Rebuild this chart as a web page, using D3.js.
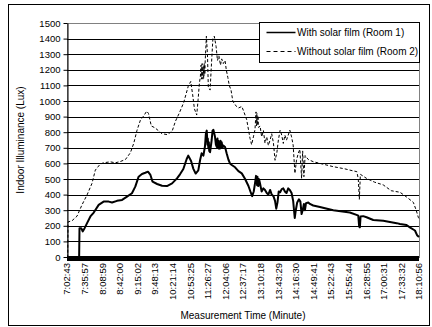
<!DOCTYPE html>
<html>
<head>
<meta charset="utf-8">
<script src="https://cdn.jsdelivr.net/npm/d3@7"></script>
<style>
  body { margin: 0; background: #fff; }
  svg { display: block; }
  text { font-family: "Liberation Sans", Arial, sans-serif; fill: #000; }
</style>
</head>
<body>
<svg id="chart" width="432" height="327"></svg>
<script>
// Category labels shown on the time axis (one every fixed number of samples)
const timeLabels = [
  "7:02:43", "7:35:57", "8:08:59", "8:42:00", "9:15:02", "9:48:13", "10:21:14",
  "10:53:25", "11:26:27", "12:04:06", "12:37:17", "13:10:18", "13:43:29",
  "14:16:30", "14:49:41", "15:22:43", "15:55:44", "16:28:55", "17:00:31",
  "17:33:32", "18:10:56"
];

const yTicks = [0, 100, 200, 300, 400, 500, 600, 700, 800, 900, 1000, 1100, 1200, 1300, 1400, 1500];

const seriesNames = ["With solar film (Room 1)", "Without solar film (Room 2)"];

// Room 1: [position along the label axis, illuminance in lux]
const room1 = [
  [0, 0], [0.69, 0], [0.71, 185], [0.81, 185], [0.89, 164], [1.00, 185], [1.14, 217],
  [1.33, 260], [1.52, 285], [1.80, 334], [2.08, 355], [2.37, 355], [2.56, 349],
  [2.84, 360], [3.13, 366], [3.41, 387], [3.69, 409], [3.88, 451], [4.07, 515],
  [4.26, 532], [4.45, 540], [4.60, 547], [4.74, 526], [4.86, 483], [5.12, 468],
  [5.40, 457], [5.68, 455], [5.97, 472], [6.25, 504], [6.42, 530], [6.61, 564],
  [6.80, 628], [6.89, 650], [7.05, 615], [7.18, 565], [7.31, 535], [7.46, 555],
  [7.56, 620], [7.65, 665], [7.75, 650], [7.84, 710], [7.89, 790], [7.94, 810],
  [7.98, 720], [8.00, 760], [8.03, 700], [8.06, 735], [8.08, 680], [8.13, 672],
  [8.22, 750], [8.27, 810], [8.32, 815], [8.37, 790], [8.41, 770], [8.46, 720],
  [8.51, 705], [8.53, 750], [8.55, 760], [8.58, 705], [8.60, 745], [8.63, 695],
  [8.65, 700], [8.69, 695], [8.72, 745], [8.74, 740], [8.77, 700], [8.79, 735],
  [8.84, 700], [8.88, 715], [8.98, 705], [9.07, 665], [9.17, 625], [9.26, 600],
  [9.36, 590], [9.55, 575], [9.74, 550], [9.93, 536], [10.12, 500], [10.31, 455],
  [10.42, 420], [10.52, 390], [10.61, 420], [10.68, 470], [10.74, 520], [10.76, 480],
  [10.78, 500], [10.80, 460], [10.82, 515], [10.85, 470], [10.87, 455], [10.90, 500],
  [10.93, 490], [10.97, 470], [11.06, 420], [11.16, 440], [11.25, 430], [11.35, 410],
  [11.44, 400], [11.54, 430], [11.63, 400], [11.73, 390], [11.82, 360], [11.89, 310],
  [11.96, 350], [12.03, 420], [12.11, 415], [12.20, 435], [12.29, 440], [12.38, 420],
  [12.47, 410], [12.57, 440], [12.66, 430], [12.76, 410], [12.85, 360], [12.94, 250],
  [13.00, 300], [13.08, 350], [13.18, 370], [13.26, 355], [13.33, 275], [13.39, 300],
  [13.46, 340], [13.52, 300], [13.58, 345], [13.71, 349], [13.80, 340], [13.99, 330],
  [14.37, 320], [15.13, 300], [16.07, 285], [16.45, 270], [16.55, 265], [16.60, 195],
  [16.64, 190], [16.68, 260], [16.83, 262], [17.02, 255], [17.40, 237], [17.97, 232],
  [18.73, 217], [18.92, 212], [19.29, 205], [19.48, 190], [19.77, 170], [19.89, 140],
  [20.0, 128]
];

// Room 2: [position along the label axis, illuminance in lux]
const room2 = [
  [0, 0], [0.04, 0], [0.06, 225], [0.28, 232], [0.57, 262], [0.85, 334], [1.14, 398],
  [1.42, 472], [1.61, 557], [1.89, 596], [2.08, 604], [2.46, 610], [2.75, 604],
  [3.03, 612], [3.32, 625], [3.60, 668], [3.79, 728], [3.98, 813], [4.17, 877],
  [4.36, 905], [4.53, 935], [4.63, 920], [4.79, 840], [5.00, 828], [5.40, 790],
  [5.68, 785], [5.97, 805], [6.16, 870], [6.37, 920], [6.63, 990], [6.89, 1095],
  [7.03, 1125], [7.14, 1040], [7.24, 950], [7.37, 910], [7.45, 1010], [7.52, 1110],
  [7.58, 1160], [7.60, 1210], [7.62, 1230], [7.635, 1140], [7.65, 1150], [7.665, 1235],
  [7.68, 1240], [7.70, 1150], [7.72, 1140], [7.735, 1225], [7.75, 1220], [7.765, 1145],
  [7.78, 1160], [7.795, 1240], [7.81, 1240], [7.83, 1170], [7.85, 1250], [7.92, 1415],
  [7.98, 1300], [8.03, 1090], [8.13, 1070], [8.21, 1240], [8.29, 1400], [8.37, 1415],
  [8.47, 1350], [8.55, 1260], [8.63, 1290], [8.72, 1230], [8.79, 1270], [8.88, 1240],
  [8.98, 1260], [9.05, 1200], [9.14, 1150], [9.22, 1100], [9.32, 1070], [9.42, 1000],
  [9.55, 975], [9.74, 955], [9.93, 965], [10.02, 940], [10.21, 880], [10.40, 760],
  [10.49, 720], [10.59, 770], [10.68, 815], [10.74, 930], [10.755, 850], [10.77, 840],
  [10.785, 915], [10.80, 920], [10.815, 845], [10.83, 850], [10.845, 905], [10.86, 900],
  [10.875, 835], [10.89, 830], [10.97, 840], [11.06, 770], [11.16, 810], [11.25, 730],
  [11.35, 770], [11.44, 715], [11.54, 750], [11.63, 790], [11.73, 730], [11.82, 620],
  [11.92, 665], [12.01, 750], [12.11, 813], [12.20, 781], [12.29, 728], [12.38, 781],
  [12.47, 749], [12.57, 781], [12.66, 813], [12.76, 770], [12.85, 717], [12.95, 536],
  [13.04, 621], [13.14, 665], [13.23, 690], [13.33, 504], [13.39, 680], [13.46, 515],
  [13.53, 650], [13.71, 625], [13.99, 611], [14.37, 600], [15.13, 579], [15.79, 565],
  [16.07, 557], [16.47, 547], [16.55, 500], [16.61, 370], [16.67, 530], [17.02, 504],
  [17.47, 480], [17.97, 462], [18.42, 425], [18.92, 415], [19.29, 385], [19.68, 350],
  [19.84, 300], [19.96, 255], [20.0, 245]
];

const W = 432, H = 327;
const plot = { left: 67, right: 419, top: 23, bottom: 257 };

const svg = d3.select("#chart");

const x = d3.scaleLinear().domain([0, timeLabels.length - 1]).range([plot.left, plot.right]);
const y = d3.scaleLinear().domain([0, 1500]).range([plot.bottom, plot.top]);

// background and outer frame
svg.append("rect").attr("width", W).attr("height", H).attr("fill", "#fff");
svg.append("rect")
  .attr("x", 8.5).attr("y", 4.5).attr("width", 421).attr("height", 321)
  .attr("fill", "none").attr("stroke", "#000").attr("stroke-width", 1);

// plot area border
svg.append("rect")
  .attr("x", plot.left + 0.5).attr("y", y(1500) + 0.5)
  .attr("width", x(timeLabels.length - 1) - plot.left).attr("height", y(0) - y(1500))
  .attr("fill", "none").attr("stroke", "#808080").attr("stroke-width", 1);

// horizontal gridlines
svg.append("g")
  .selectAll("line")
  .data(yTicks.filter(d => d > 0 && d < 1500))
  .join("line")
  .attr("x1", plot.left).attr("x2", plot.right)
  .attr("y1", d => Math.round(y(d)) + 0.5).attr("y2", d => Math.round(y(d)) + 0.5)
  .attr("stroke", "#000").attr("stroke-width", 1);

// y axis
const yAxis = svg.append("g")
  .attr("transform", `translate(${plot.left + 0.5},0)`)
  .call(d3.axisLeft(y).tickValues(yTicks).tickFormat(d3.format("d"))
    .tickSize(4).tickSizeOuter(0).tickPadding(3));
yAxis.select(".domain").attr("stroke", "#000");
yAxis.selectAll(".tick line").attr("stroke", "#000");
yAxis.selectAll(".tick text")
  .attr("font-size", 9.5).attr("font-family", "Liberation Sans, Arial, sans-serif");

// data lines
const line = d3.line().x(d => x(d[0])).y(d => y(d[1]));

svg.append("path")
  .datum(room2)
  .attr("d", line)
  .attr("fill", "none").attr("stroke", "#000").attr("stroke-width", 1)
  .attr("stroke-dasharray", "3,2");

svg.append("path")
  .datum(room1)
  .attr("d", line)
  .attr("fill", "none").attr("stroke", "#000").attr("stroke-width", 2)
  .attr("stroke-linejoin", "round");

// category axis: tick marks at every sample, too dense to separate
svg.append("rect")
  .attr("x", x(0)).attr("y", y(0) - 1)
  .attr("width", x(timeLabels.length - 1) - x(0)).attr("height", 5)
  .attr("fill", "#000");

// time labels, rotated
svg.append("g")
  .selectAll("text")
  .data(timeLabels)
  .join("text")
  .attr("transform", (d, i) => `translate(${x(i)},${y(0) + 6}) rotate(-90)`)
  .attr("text-anchor", "end")
  .attr("dy", "0.35em")
  .attr("font-size", 9.5)
  .text(d => d);

// axis titles
svg.append("text")
  .attr("x", (plot.left + plot.right) / 2).attr("y", 319)
  .attr("text-anchor", "middle").attr("font-size", 10)
  .text("Measurement Time (Minute)");

svg.append("text")
  .attr("transform", `translate(24,${(plot.top + plot.bottom) / 2}) rotate(-90)`)
  .attr("text-anchor", "middle").attr("font-size", 10)
  .text("Indoor Illuminance (Lux)");

// legend
const legend = svg.append("g").attr("transform", "translate(259.5,22.5)");
legend.append("rect")
  .attr("width", 160).attr("height", 40)
  .attr("fill", "#fff").attr("stroke", "#000").attr("stroke-width", 1);
const rows = [
  { name: seriesNames[0], dash: null, width: 1.5, cy: 10 },
  { name: seriesNames[1], dash: "4,3", width: 1, cy: 29 }
];
rows.forEach(r => {
  legend.append("line")
    .attr("x1", 7).attr("x2", 36).attr("y1", r.cy).attr("y2", r.cy)
    .attr("stroke", "#000").attr("stroke-width", r.width)
    .attr("stroke-dasharray", r.dash);
  legend.append("text")
    .attr("x", 37.5).attr("y", r.cy).attr("dy", "0.35em")
    .attr("font-size", 10)
    .text(r.name);
});
</script>
</body>
</html>
